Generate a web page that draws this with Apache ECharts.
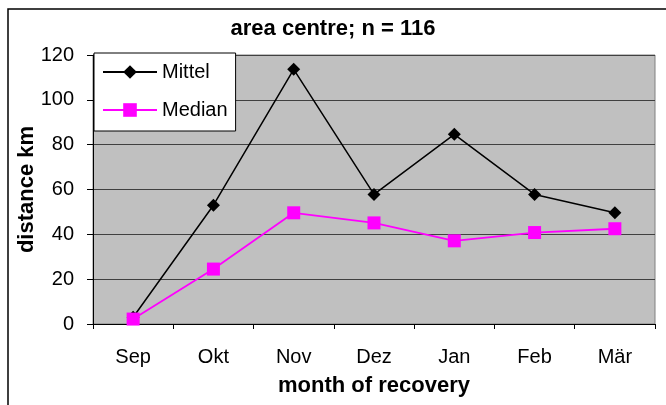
<!DOCTYPE html>
<html>
<head>
<meta charset="utf-8">
<script src="https://cdn.jsdelivr.net/npm/echarts@6/dist/echarts.min.js"></script>
<style>
  html, body { margin: 0; padding: 0; background: #fff; }
  #chart { width: 666px; height: 405px; }
</style>
</head>
<body>
<div id="chart"></div>
<script>
// Months of recovery and the distance values (km) per month
const months = ['Sep', 'Okt', 'Nov', 'Dez', 'Jan', 'Feb', 'Mär'];
const mittel = [3, 53, 113.6, 57.8, 84.6, 57.8, 49.6];
const median = [2.2, 24.5, 49.6, 45.1, 37.1, 40.8, 42.5];
const yTicks = [0, 20, 40, 60, 80, 100, 120];

const FONT = '"Liberation Sans", Arial, sans-serif';

const chart = echarts.init(document.getElementById('chart'), null, { renderer: 'canvas' });

chart.setOption({
  animation: false,
  backgroundColor: '#ffffff',
  textStyle: { fontFamily: FONT },
  title: {
    text: 'area centre; n = 116',
    left: 'center',
    top: 13,
    textStyle: { fontFamily: FONT, fontSize: 22, fontWeight: 'bold', color: '#000' }
  },
  graphic: [{
    type: 'rect',
    shape: { x: 8, y: 9, width: 700, height: 500 },
    style: { fill: 'none', stroke: '#000', lineWidth: 1.5 },
    silent: true
  }],
  grid: {
    left: 93, top: 55, right: 11, bottom: 81,
    show: true,
    backgroundColor: '#c0c0c0',
    borderColor: '#808080',
    borderWidth: 1
  },
  legend: {
    orient: 'vertical',
    left: 94, top: 53,
    backgroundColor: '#ffffff',
    borderColor: '#000',
    borderWidth: 1,
    padding: [9, 8, 11, 8],
    itemWidth: 54,
    itemHeight: 17,
    itemGap: 18,
    textStyle: { fontFamily: FONT, fontSize: 20, color: '#000' },
    data: ['Mittel', 'Median']
  },
  xAxis: {
    type: 'category',
    data: months,
    boundaryGap: true,
    name: 'month of recovery',
    nameLocation: 'middle',
    nameGap: 51,
    nameMoveOverlap: false,
    nameTextStyle: { fontFamily: FONT, fontSize: 22, fontWeight: 'bold', color: '#000' },
    axisLine: { lineStyle: { color: '#000', width: 1 } },
    axisTick: { show: true, length: 5, lineStyle: { color: '#000' } },
    axisLabel: { fontFamily: FONT, fontSize: 20, color: '#000', margin: 23 },
    splitLine: { show: false }
  },
  yAxis: {
    type: 'value',
    min: yTicks[0],
    max: yTicks[yTicks.length - 1],
    interval: 20,
    name: 'distance km',
    nameLocation: 'middle',
    nameRotate: 90,
    nameGap: 55,
    nameMoveOverlap: false,
    nameTextStyle: { fontFamily: FONT, fontSize: 22, fontWeight: 'bold', color: '#000' },
    axisLine: { show: true, lineStyle: { color: '#000', width: 1 } },
    axisTick: { show: true, length: 6, lineStyle: { color: '#000' } },
    axisLabel: { fontFamily: FONT, fontSize: 20, color: '#000', margin: 19 },
    splitLine: { show: true, lineStyle: { color: '#404040', width: 1 } }
  },
  series: [
    {
      name: 'Mittel',
      type: 'line',
      data: mittel,
      symbol: 'diamond',
      symbolSize: 13,
      showAllSymbol: true,
      lineStyle: { color: '#000', width: 1.5 },
      itemStyle: { color: '#000' },
      z: 2
    },
    {
      name: 'Median',
      type: 'line',
      data: median,
      symbol: 'rect',
      symbolSize: 13,
      showAllSymbol: true,
      lineStyle: { color: '#ff00ff', width: 1.8 },
      itemStyle: { color: '#ff00ff' },
      z: 3
    }
  ]
});
</script>
</body>
</html>
